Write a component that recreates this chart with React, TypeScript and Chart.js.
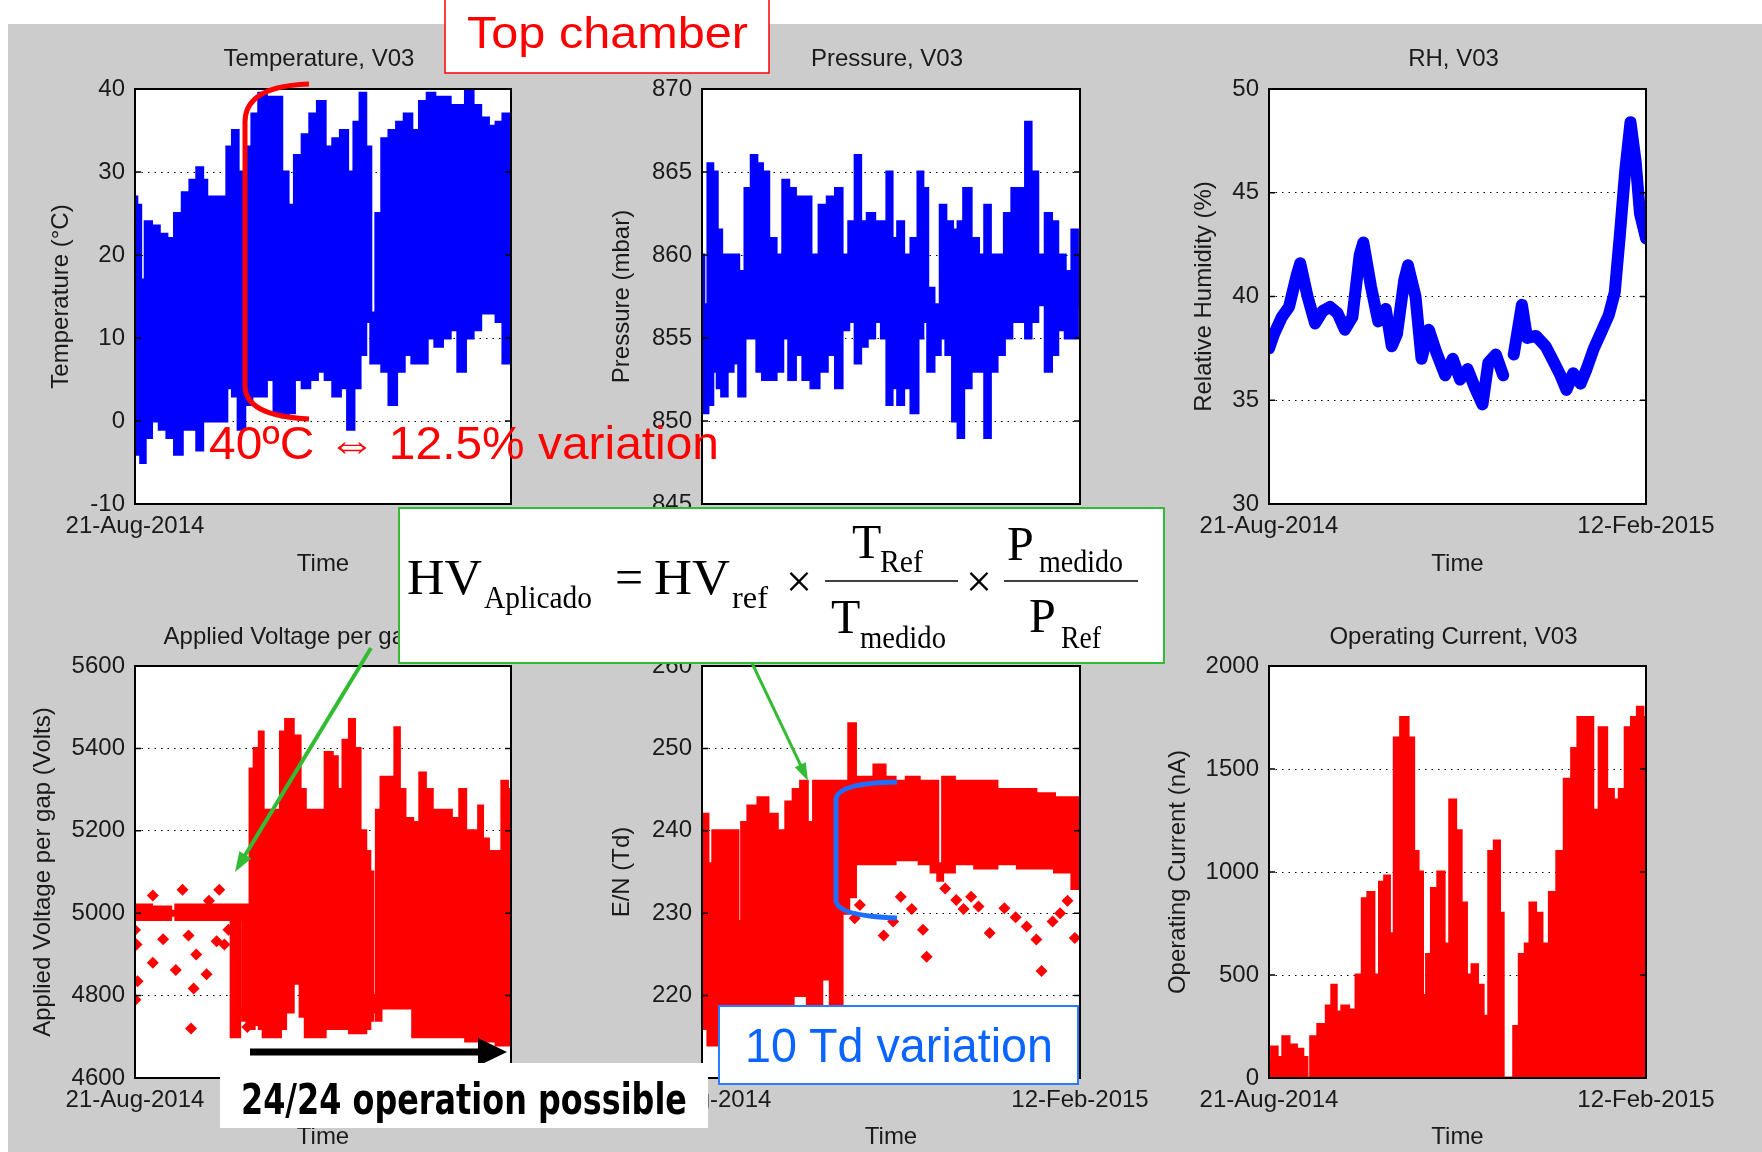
import React, { useEffect, useRef } from "react";
import { Chart, registerables } from "chart.js";

Chart.register(...registerables);

// ---------------- data (days since 21-Aug-2014) ----------------
const xTickLabels = ["21-Aug-2014", "12-Feb-2015"];
const xTickDays = [0, 175];

const tempDays = [0, 1.7, 3.6, 5.9, 9.5, 13.1, 16.6, 20.2, 23.8, 27.3, 30.2, 32.8, 34.0, 35.6, 41.6, 43.9, 46.8, 49.2, 53.0, 55.8, 59.4, 62.9, 66.5, 70.1, 72.4, 76.0, 79.6, 83.1, 86.7, 90.3, 93.8, 97.4, 100.5, 103.3, 106.2, 108.6, 110.9, 113.3, 116.4, 120.0, 123.5, 127.1, 130.6, 134.2, 137.8, 141.3, 144.9, 148.5, 152.0, 155.6, 159.1, 162.7, 166.3, 169.8, 172.7, 175];
const tempHigh = [27, 26, 17, 24, 23.5, 22.5, 22, 25, 27.5, 29, 30.5, 29, 22, 27, 27, 33, 35, 30, 33, 37, 39.5, 39, 39, 30, 26, 32, 34.5, 37, 38.5, 33, 34, 35, 30, 36, 39.5, 33, 13, 25, 34, 35, 36, 37, 35, 38.5, 39.5, 39, 39, 38, 38, 40, 38, 36.5, 35.5, 36, 37, 37];
const tempLow = [3, -4, -5, -2, 0, -1, -2, -4, -1, -1, -3.5, 0, 2, 0, 0, 4, 3, -1, 2, 3, 3, 5, 1, 0.5, 1, 5, 4, 5, 6, 5, 3, 4, -1, 4, 8, 12, 7, 7, 6, 2, 6, 8, 7, 7, 10, 9, 10, 11, 6, 10, 11, 13, 13, 12, 7, 12];

const presDays = [0, 1.7, 3.8, 6.2, 7.9, 10.3, 13.0, 15.8, 18.2, 21.6, 24.0, 26.8, 29.2, 32.6, 36.0, 38.8, 41.5, 45.0, 48.4, 52.5, 55.9, 60.1, 63.5, 66.2, 69.7, 72.1, 74.8, 78.2, 81.7, 84.4, 86.8, 89.2, 92.0, 94.7, 98.8, 101.2, 103.3, 105.7, 109.1, 111.5, 114.3, 117.7, 119.4, 122.9, 126.3, 129.7, 132.1, 134.9, 138.3, 141.7, 145.2, 148.6, 151.0, 153.7, 157.2, 160.6, 163.0, 166.4, 169.9, 172.6, 175];
const presHigh = [860, 857, 865.5, 865, 861.5, 860, 860, 860, 859, 864, 866, 865.5, 865, 861, 860, 864.5, 864, 863.5, 863.5, 860, 863, 863.5, 864, 860, 862, 866, 862, 862.5, 862, 862, 865, 861, 862, 860, 861, 865, 864, 858, 857, 863, 862, 861.5, 862, 864, 861, 860, 863, 860, 860, 862.5, 864, 864, 868, 865, 860, 862.5, 862, 860, 859, 861.5, 860];
const presLow = [853, 850.5, 851, 853, 852, 851.5, 853, 853.5, 851.5, 855, 855, 853, 852.5, 852.5, 853, 855, 852.5, 854, 852.5, 852, 853, 854, 852, 855.5, 856, 853.5, 854.5, 855, 856, 855, 851, 852, 851, 852, 850.5, 855, 856, 853, 854, 855, 854, 850, 849, 852, 853, 853, 849, 853, 854, 855, 856, 856, 855, 856, 857, 853, 854, 855.5, 855, 855, 857];

const rhDays = [0, 2.4, 5.9, 9.3, 12.8, 14.5, 17.9, 21.4, 24.9, 28.3, 31.8, 35.2, 38.7, 42.1, 43.8, 47.3, 50.7, 54.2, 57.0, 59.4, 62.8, 64.5, 68.0, 70.8, 74.2, 77.7, 81.8, 85.3, 88.7, 92.2, 95.6, 99.1, 101.8, 105.3, 108.7, 111.0, 113.6, 117.4, 119.8, 123.9, 128.4, 131.9, 135.3, 138.1, 141.2, 144.6, 147.4, 150.8, 154.3, 157.7, 160.5, 162.9, 165.3, 167.8, 170.2, 172.2, 175];
const rhValues = [37.5, 38.2, 39.0, 39.5, 41.0, 41.6, 40.0, 38.7, 39.3, 39.5, 39.2, 38.4, 39.0, 42.0, 42.6, 40.5, 38.8, 39.4, 37.6, 38.2, 40.8, 41.5, 40.0, 37.0, 38.4, 37.3, 36.2, 37.0, 36.0, 36.5, 35.6, 34.8, 36.8, 37.2, 36.2, null, 37.2, 39.6, 38.0, 38.1, 37.6, 36.9, 36.2, 35.5, 36.3, 35.8, 36.5, 37.5, 38.3, 39.1, 40.2, 43.0, 46.0, 48.4, 46.5, 44.0, 42.8];

const voltDays = [0, 15.4, 17.8, 20.2, 41.6, 44.4, 45.1, 48.2, 49.2, 51.1, 53.2, 53.9, 57.0, 58.7, 60.6, 66.5, 68.9, 71.3, 76.0, 77.7, 80.8, 86.7, 90.3, 93.3, 95.0, 98.6, 101.0, 103.3, 106.2, 108.6, 110.0, 111.4, 113.3, 115.7, 120.0, 121.9, 124.2, 127.1, 131.4, 133.7, 136.6, 140.1, 144.9, 149.6, 152.7, 155.1, 159.1, 160.8, 162.7, 166.3, 169.8, 171.7, 175];
const voltHigh = [5020, 5015, 5005, 5020, 5020, 5020, 5020, 5020, 5020, 5020, 5020, 5350, 5400, 5440, 5250, 5250, 5440, 5470, 5430, 5300, 5250, 5250, 5390, 5380, 5300, 5420, 5470, 5400, 5200, 5150, 5100, 4800, 5250, 5330, 5330, 5450, 5300, 5230, 5220, 5340, 5300, 5250, 5250, 5230, 5300, 5200, 5200, 5260, 5180, 5150, 5150, 5320, 5300];
const voltLow = [4985, 4985, 4995, 4985, 4985, 4985, 4700, 4700, 4985, 4740, 4720, 4720, 4730, 4720, 4700, 4700, 4720, 4760, 4830, 4750, 4700, 4700, 4720, 4720, 4720, 4720, 4710, 4710, 4710, 4720, 4740, 4760, 4740, 4770, 4770, 4770, 4770, 4770, 4700, 4700, 4700, 4700, 4700, 4700, 4700, 4690, 4690, 4690, 4690, 4690, 4680, 4680, 4680];
const voltOutDays = [0, 0.7, 1.2, 0.2, 8.3, 8.3, 13.1, 19.0, 22.1, 24.9, 26.1, 27.3, 28.5, 33.3, 34.4, 38.0, 39.2, 41.6, 43.5, 50.6, 52.3];
const voltOutValues = [4959, 4924, 4835, 4790, 4880, 5043, 4937, 4862, 5057, 4946, 4720, 4817, 4900, 4852, 5030, 4932, 5057, 4924, 4960, 4760, 4724];

const enDays = [0, 1.7, 3.8, 6.2, 11.3, 15.8, 17.5, 19.2, 23.3, 28.5, 32.6, 37.1, 40.5, 43.9, 47.4, 50.1, 53.2, 57.7, 61.1, 63.5, 66.2, 69.7, 72.4, 76.5, 82.7, 86.8, 92.0, 97.1, 104.0, 108.1, 110.2, 112.6, 121.1, 131.4, 141.7, 150.3, 158.9, 167.5, 175];
const enHigh = [242, 242, 236, 240, 240, 240, 229, 241, 243, 244, 242, 240, 243.5, 245, 246, 241, 246, 246, 246, 246, 246, 253, 246.5, 246.5, 248, 246.5, 246, 246.5, 246, 246, 236, 246.5, 246, 246, 245, 245, 244.5, 244, 244];
const enLow = [222, 216, 214, 214, 214, 216, 218, 218, 217, 218, 218, 219, 219, 220, 220, 219, 218, 222, 218, 211, 230, 232, 236, 236, 236, 236, 236.5, 236.5, 236, 235, 234, 235, 236, 235.5, 236, 235.5, 235.5, 235, 233];
const enOutDays = [60.1, 70.7, 73.1, 84.1, 88.5, 92.0, 97.1, 102.3, 104.0, 112.6, 117.7, 121.1, 124.6, 128.0, 133.2, 140.0, 145.2, 150.3, 154.8, 157.2, 162.3, 165.8, 169.2, 172.6];
const enOutValues = [227, 229.4, 231, 227.3, 229, 232, 230.5, 228, 224.7, 233, 231.6, 230.5, 232, 230.8, 227.6, 230.6, 229.5, 228.4, 226.8, 223, 229, 230, 231.5, 227];

const curDays = [0, 2.4, 5.2, 7.6, 11.0, 14.5, 16.9, 18.3, 20.4, 24.9, 28.3, 30.0, 32.4, 35.2, 38.7, 42.1, 44.5, 47.3, 50.1, 52.5, 54.9, 56.9, 59.4, 62.8, 66.3, 68.0, 70.4, 72.1, 74.2, 76.6, 80.1, 82.5, 85.3, 88.0, 90.4, 92.9, 95.6, 98.0, 100.8, 103.2, 106.0, 108.0, 109.4, 112.9, 114.3, 118.1, 119.8, 122.5, 125.0, 128.4, 131.9, 135.3, 138.8, 142.2, 144.6, 149.1, 151.5, 155.0, 158.5, 161.2, 164.0, 166.7, 169.8, 172.2, 175];
const curHigh = [80, 150, 100, 200, 160, 140, 100, 0, 200, 260, 350, 450, 320, 350, 330, 500, 870, 900, 500, 950, 980, 700, 1650, 1750, 1650, 1100, 1000, 400, 600, 920, 1000, 650, 1350, 1200, 850, 500, 550, 450, 300, 1100, 1150, 800, 0, 0, 250, 600, 650, 850, 800, 650, 900, 1100, 1450, 1600, 1750, 1750, 1300, 1700, 1400, 1350, 1400, 1700, 1750, 1800, 1750];

// ---------------- styling ----------------
const BLUE = "#0000ff";
const RED = "#ff0000";
const TEXT = "#1a1a1a";
const FONT = "'Liberation Sans', Arial, Helvetica, sans-serif";
const SERIF = "'Liberation Serif', 'Times New Roman', serif";

const PLOT_LEFT = [135, 702, 1269];
const PLOT_RIGHT = [511, 1080, 1646];
const ROW_TOP = [89, 666];
const ROW_BOTTOM = [504, 1078];
const Y_AXIS_W = 135;
const RIGHT_PAD = 125;
const TITLE_H = 60;
const TITLE_GAP = [30, 29];
const X_AXIS_H = [75, 74];
const X_TITLE_PAD = [4.6, 2.6];

const pts = (d: number[], v: (number | null)[]) => d.map((x, i) => ({ x, y: v[i] }));

function band(d: number[], hi: number[], lo: number[], color: string) {
  return [
    { data: pts(d, hi), borderColor: color, backgroundColor: color, borderWidth: 3, pointRadius: 0, fill: "+1", stepped: "middle" },
    { data: pts(d, lo), borderColor: color, backgroundColor: color, borderWidth: 3, pointRadius: 0, fill: false, stepped: "middle" },
  ];
}
function outliers(d: number[], v: number[], color: string) {
  return { data: pts(d, v), showLine: false, pointStyle: "rectRot", pointRadius: 6, backgroundColor: color, borderColor: color, borderWidth: 0, fill: false };
}

type Panel = { key: string; row: number; col: number; title: string; yTitle: string; yOff: number; yMin: number; yMax: number; yStep: number; datasets: any[] };

const PANELS: Panel[] = [
  { key: "temp", row: 0, col: 0, title: "Temperature, V03", yTitle: "Temperature (°C)", yOff: 61, yMin: -10, yMax: 40, yStep: 10, datasets: band(tempDays, tempHigh, tempLow, BLUE) },
  { key: "pres", row: 0, col: 1, title: "Pressure, V03", yTitle: "Pressure (mbar)", yOff: 55, yMin: 845, yMax: 870, yStep: 5, datasets: band(presDays, presHigh, presLow, BLUE) },
  { key: "rh", row: 0, col: 2, title: "RH, V03", yTitle: "Relative Humidity (%)", yOff: 70, yMin: 30, yMax: 50, yStep: 5,
    datasets: [{ data: pts(rhDays, rhValues), borderColor: BLUE, borderWidth: 12, pointRadius: 0, fill: false, tension: 0, borderJoinStyle: "round", borderCapStyle: "round" }] },
  { key: "volt", row: 1, col: 0, title: "Applied Voltage per gap, V03", yTitle: "Applied Voltage per gap (Volts)", yOff: 43, yMin: 4600, yMax: 5600, yStep: 200,
    datasets: [...band(voltDays, voltHigh, voltLow, RED), outliers(voltOutDays, voltOutValues, RED)] },
  { key: "en", row: 1, col: 1, title: "E/N, V03", yTitle: "E/N (Td)", yOff: 55, yMin: 210, yMax: 260, yStep: 10,
    datasets: [...band(enDays, enHigh, enLow, RED), outliers(enOutDays, enOutValues, RED)] },
  { key: "cur", row: 1, col: 2, title: "Operating Current, V03", yTitle: "Operating Current (nA)", yOff: 44, yMin: 0, yMax: 2000, yStep: 500,
    datasets: [{ data: pts(curDays, curHigh), borderColor: RED, backgroundColor: RED, borderWidth: 3, pointRadius: 0, fill: "origin", stepped: "middle" }] },
];

function geom(p: Panel) {
  const plotW = PLOT_RIGHT[p.col] - PLOT_LEFT[p.col];
  const plotH = ROW_BOTTOM[p.row] - ROW_TOP[p.row];
  return {
    left: PLOT_LEFT[p.col] - Y_AXIS_W,
    top: ROW_TOP[p.row] - TITLE_H,
    w: plotW + Y_AXIS_W + RIGHT_PAD,
    h: TITLE_H + plotH + X_AXIS_H[p.row],
  };
}

function makeFrame(title: string, gap: number) {
  return {
    id: "matlabFrame",
    beforeDraw(chart: any) {
      const { ctx, chartArea: a } = chart;
      ctx.save();
      ctx.fillStyle = "#ffffff";
      ctx.fillRect(a.left, a.top, a.right - a.left, a.bottom - a.top);
      ctx.restore();
    },
    afterDraw(chart: any) {
      const { ctx, chartArea: a, scales } = chart;
      ctx.save();
      ctx.strokeStyle = "#000";
      ctx.lineWidth = 1.5;
      const ys = scales.y;
      ys.ticks.forEach((t: any) => {
        const py = ys.getPixelForValue(t.value);
        ctx.beginPath();
        ctx.moveTo(a.left, py); ctx.lineTo(a.left + 6, py);
        ctx.moveTo(a.right, py); ctx.lineTo(a.right - 6, py);
        ctx.stroke();
      });
      ctx.lineWidth = 2;
      ctx.strokeRect(a.left, a.top, a.right - a.left, a.bottom - a.top);
      ctx.fillStyle = TEXT;
      ctx.font = `24px ${FONT}`;
      ctx.textAlign = "center";
      ctx.textBaseline = "middle";
      ctx.fillText(title, (a.left + a.right) / 2 - 4, a.top - gap);
      ctx.restore();
    },
  };
}

function buildConfig(p: Panel): any {
  const r = p.row;
  const font = { family: FONT, size: 24, weight: "normal" as const, lineHeight: 1.2 };
  return {
    type: "line",
    data: { datasets: p.datasets },
    options: {
      animation: false,
      responsive: false,
      events: [],
      layout: { padding: { left: 0, right: RIGHT_PAD, top: TITLE_H, bottom: 0 } },
      plugins: { legend: { display: false }, tooltip: { enabled: false }, title: { display: false } },
      scales: {
        x: {
          type: "linear", min: xTickDays[0], max: xTickDays[1],
          afterBuildTicks: (s: any) => { s.ticks = xTickDays.map((v) => ({ value: v })); },
          afterFit: (s: any) => { s.height = X_AXIS_H[r]; },
          grid: { display: false, drawTicks: false },
          border: { display: false },
          ticks: { autoSkip: false, maxRotation: 0, minRotation: 0, padding: 8, color: TEXT, font, callback: (_v: any, i: number) => xTickLabels[i] },
          title: { display: true, text: "Time", color: TEXT, font, padding: { top: X_TITLE_PAD[r], bottom: 0 } },
        },
        y: {
          type: "linear", min: p.yMin, max: p.yMax,
          afterFit: (s: any) => { s.width = Y_AXIS_W; },
          grid: { color: "#000", lineWidth: 1, drawTicks: false },
          border: { display: false, dash: [1.5, 5] },
          ticks: { stepSize: p.yStep, padding: 10, color: TEXT, font, callback: (v: any) => String(v) },
          title: { display: true, text: p.yTitle, color: TEXT, font, padding: { top: p.yOff - 14.4, bottom: 0 } },
        },
      },
    },
    plugins: [makeFrame(p.title, TITLE_GAP[r])],
  };
}

function headPts(x1: number, y1: number, x2: number, y2: number, len: number, half: number) {
  const dx = x2 - x1, dy = y2 - y1;
  const L = Math.hypot(dx, dy);
  const ux = dx / L, uy = dy / L;
  const bx = x2 - ux * len, by = y2 - uy * len;
  return `${x2},${y2} ${bx - uy * half},${by + ux * half} ${bx + uy * half},${by - ux * half}`;
}

const GREEN = "#33bb33";

function Overlay() {
  return (
    <svg width={1762} height={1152} style={{ position: "absolute", left: 0, top: 0, pointerEvents: "none" }}>
      {/* Top chamber */}
      <rect x={445} y={-5} width={324} height={78} fill="#fff" stroke={RED} strokeWidth={1.5} />
      <text x={467} y={48} fontFamily={FONT} fontSize={44} fill={RED} textLength={281} lengthAdjust="spacingAndGlyphs">Top chamber</text>
      {/* red bracket */}
      <path d="M 309 84 Q 245 86 245 122 L 245 386 Q 245 416 309 419" fill="none" stroke={RED} strokeWidth={5} />
      <text x={209} y={459} fontFamily={FONT} fontSize={47} fill={RED} textLength={510} lengthAdjust="spacingAndGlyphs">40ºC ⇔ 12.5% variation</text>

      {/* formula box */}
      <rect x={399} y={508} width={765} height={155} fill="#fff" stroke={GREEN} strokeWidth={2} />
      <g fontFamily={SERIF} fill="#000">
        <text x={407} y={594} fontSize={50} textLength={75} lengthAdjust="spacingAndGlyphs">HV</text>
        <text x={484} y={608} fontSize={31} textLength={108} lengthAdjust="spacingAndGlyphs">Aplicado</text>
        <text x={615} y={594} fontSize={50}>=</text>
        <text x={654} y={594} fontSize={50} textLength={76} lengthAdjust="spacingAndGlyphs">HV</text>
        <text x={732} y={608} fontSize={31} textLength={36} lengthAdjust="spacingAndGlyphs">ref</text>
        <text x={786} y={597} fontSize={46}>×</text>
        <line x1={825} y1={581} x2={958} y2={581} stroke="#000" strokeWidth={1.6} />
        <text x={852} y={558} fontSize={48}>T</text>
        <text x={880} y={572} fontSize={31} textLength={43} lengthAdjust="spacingAndGlyphs">Ref</text>
        <text x={831} y={633} fontSize={48}>T</text>
        <text x={860} y={648} fontSize={31} textLength={86} lengthAdjust="spacingAndGlyphs">medido</text>
        <text x={966} y={597} fontSize={46}>×</text>
        <line x1={1004} y1={581} x2={1138} y2={581} stroke="#000" strokeWidth={1.6} />
        <text x={1007} y={560} fontSize={48}>P</text>
        <text x={1039} y={572} fontSize={31} textLength={84} lengthAdjust="spacingAndGlyphs">medido</text>
        <text x={1029} y={632} fontSize={48}>P</text>
        <text x={1061} y={648} fontSize={31} textLength={40} lengthAdjust="spacingAndGlyphs">Ref</text>
      </g>

      {/* green arrows */}
      <line x1={371} y1={648} x2={244} y2={857} stroke={GREEN} strokeWidth={4} />
      <polygon points={headPts(371, 648, 235, 872, 20, 7)} fill={GREEN} />
      <line x1={752} y1={663} x2={801} y2={766} stroke={GREEN} strokeWidth={3} />
      <polygon points={headPts(752, 663, 808, 781, 18, 6)} fill={GREEN} />

      {/* blue bracket */}
      <path d="M 897 782 Q 836 783 836 800 L 836 900 Q 836 916 897 918" fill="none" stroke="#1e6fff" strokeWidth={5} />

      {/* 10 Td variation */}
      <rect x={719} y={1006} width={359} height={78} fill="#fff" stroke="#2b7bff" strokeWidth={2} />
      <text x={745} y={1062} fontFamily={FONT} fontSize={48} fill="#0a64ff" textLength={308} lengthAdjust="spacingAndGlyphs">10 Td variation</text>

      {/* 24/24 operation possible */}
      <line x1={250} y1={1052} x2={482} y2={1052} stroke="#000" strokeWidth={7} />
      <polygon points="478,1038 507,1052 478,1066" fill="#000" />
      <rect x={220} y={1063} width={488} height={65} fill="#fff" />
      <text x={241} y={1114} fontFamily="'DejaVu Sans', sans-serif" fontWeight="bold" fontSize={42} fill="#000" textLength={446} lengthAdjust="spacingAndGlyphs">24/24 operation possible</text>
    </svg>
  );
}

export default function App() {
  const refs = useRef<(HTMLCanvasElement | null)[]>([]);
  useEffect(() => {
    document.body.style.margin = "0";
    document.body.style.overflow = "hidden";
    const charts = PANELS.map((p, i) => new Chart(refs.current[i] as HTMLCanvasElement, buildConfig(p)));
    return () => charts.forEach((c) => c.destroy());
  }, []);
  return (
    <div style={{ position: "relative", width: 1762, height: 1152, overflow: "hidden", background: "#fff" }}>
      <div style={{ position: "absolute", left: 8, top: 24, width: 1754, height: 1128, background: "#cccccc" }} />
      {PANELS.map((p, i) => {
        const g = geom(p);
        return (
          <canvas
            key={p.key}
            ref={(el) => { refs.current[i] = el; }}
            width={g.w}
            height={g.h}
            style={{ position: "absolute", left: g.left, top: g.top, width: g.w, height: g.h }}
          />
        );
      })}
      <Overlay />
    </div>
  );
}
